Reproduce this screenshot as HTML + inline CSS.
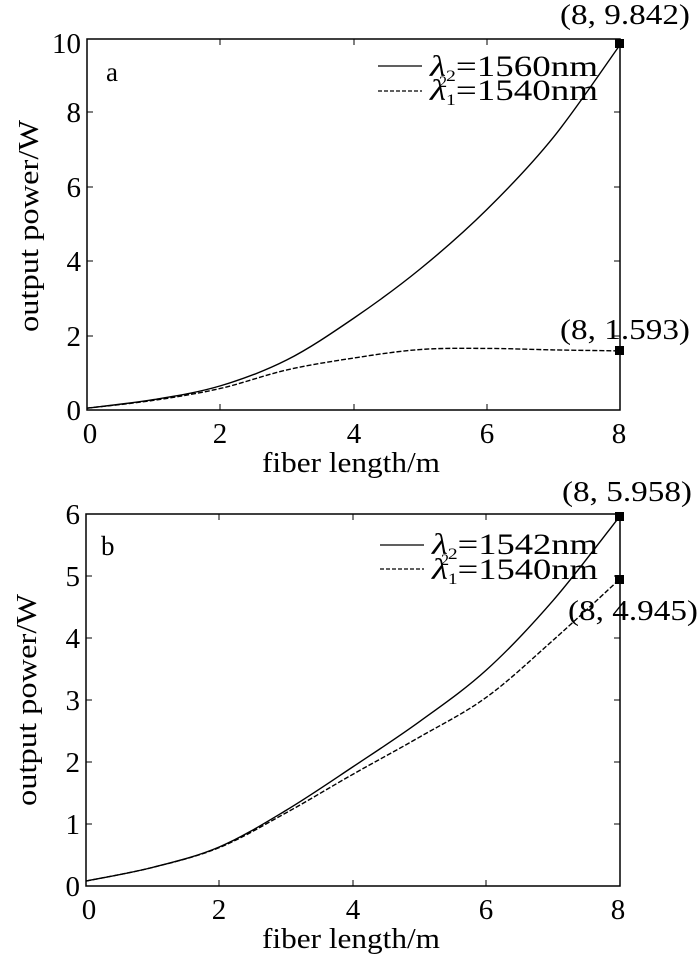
<!DOCTYPE html>
<html><head><style>body{margin:0;background:#fff}svg{display:block}text{font-family:"Liberation Serif",serif;fill:#000}</style></head>
<body>
<svg id="s" width="700" height="954" viewBox="0 0 700 954" xmlns="http://www.w3.org/2000/svg">
<g stroke="#000" fill="none" stroke-width="1.5">
<rect x="87" y="39" width="533" height="371"/>
<rect x="86" y="514" width="534" height="372"/>
</g>
<g stroke="#000" stroke-width="1">
<path d="M220,410v-6M354,410v-6M487,410v-6M220,39v6M354,39v6M487,39v6M87,336h6M87,261h6M87,187h6M87,112h6M620,336h-6M620,261h-6M620,187h-6M620,112h-6"/>
<path d="M219,886v-6M353,886v-6M486,886v-6M219,514v6M353,514v6M486,514v6M86,824h6M86,762h6M86,700h6M86,638h6M86,576h6M620,824h-6M620,762h-6M620,700h-6M620,638h-6M620,576h-6"/>
</g>
<g font-size="29" text-anchor="end">
<text x="81" y="420">0</text><text x="81" y="346">2</text><text x="81" y="271">4</text><text x="81" y="197">6</text><text x="81" y="122">8</text><text x="81" y="53">10</text>
<text x="80" y="896">0</text><text x="80" y="834">1</text><text x="80" y="772">2</text><text x="80" y="710">3</text><text x="80" y="648">4</text><text x="80" y="586">5</text><text x="80" y="524">6</text>
</g>
<g font-size="29" text-anchor="middle">
<text x="90" y="443">0</text><text x="220" y="443">2</text><text x="354" y="443">4</text><text x="487" y="443">6</text><text x="619" y="443">8</text>
<text x="89" y="919">0</text><text x="219" y="919">2</text><text x="353" y="919">4</text><text x="486" y="919">6</text><text x="618" y="919">8</text>
<text x="351" y="472" textLength="178" lengthAdjust="spacingAndGlyphs">fiber length/m</text>
<text x="351" y="948" textLength="178" lengthAdjust="spacingAndGlyphs">fiber length/m</text>
<text transform="translate(38,226) rotate(-90)" textLength="212" lengthAdjust="spacingAndGlyphs">output power/W</text>
<text transform="translate(36,700) rotate(-90)" textLength="212" lengthAdjust="spacingAndGlyphs">output power/W</text>
</g>
<text x="106" y="81" font-size="27">a</text>
<text x="101" y="555" font-size="27">b</text>
<g stroke="#000" stroke-width="1.3">
<path d="M378,66h44"/><path d="M378,91h44" stroke-dasharray="4,2"/>
<path d="M380,545h44"/><path d="M380,569h44" stroke-dasharray="4,2"/>
</g>
<g font-size="30">
<text x="430" y="76" textLength="168" lengthAdjust="spacingAndGlyphs"><tspan font-style="italic">λ</tspan><tspan font-size="16" dy="5">2</tspan><tspan dy="-5">=1560nm</tspan></text>
<text x="430" y="100" textLength="168" lengthAdjust="spacingAndGlyphs"><tspan font-style="italic">λ</tspan><tspan font-size="16" dy="5">1</tspan><tspan dy="-5">=1540nm</tspan></text>
<text x="439" y="87" font-size="16">2</text>
<text x="432" y="554" textLength="166" lengthAdjust="spacingAndGlyphs"><tspan font-style="italic">λ</tspan><tspan font-size="16" dy="5">2</tspan><tspan dy="-5">=1542nm</tspan></text>
<text x="432" y="579" textLength="166" lengthAdjust="spacingAndGlyphs"><tspan font-style="italic">λ</tspan><tspan font-size="16" dy="5">1</tspan><tspan dy="-5">=1540nm</tspan></text>
<text x="441" y="565" font-size="16">2</text>
</g>
<g font-size="29">
<text x="560" y="24" textLength="130" lengthAdjust="spacingAndGlyphs">(8, 9.842)</text>
<text x="560" y="339" textLength="130" lengthAdjust="spacingAndGlyphs">(8, 1.593)</text>
<text x="562" y="501" textLength="130" lengthAdjust="spacingAndGlyphs">(8, 5.958)</text>
<text x="568" y="620" textLength="130" lengthAdjust="spacingAndGlyphs">(8, 4.945)</text>
</g>
<g fill="none" stroke="#000" stroke-width="1.4">
<path id="a1"/><path id="a2" stroke-dasharray="5,2"/>
<path id="b1"/><path id="b2" stroke-dasharray="5,2"/>
</g>
<g fill="#000">
<rect x="615" y="39" width="9" height="9"/><rect x="615" y="346" width="9" height="9"/>
<rect x="615" y="512" width="9" height="9"/><rect x="615" y="575" width="9" height="9"/>
</g>
</svg>
<script>
function build(id,vals,x0,xs,y0,ys){
  var p=vals.map(function(v,i){return [x0+i*xs,y0-v*ys];});
  var d="M"+p[0][0]+","+p[0][1];
  for(var i=0;i<p.length-1;i++){
    var a=p[Math.max(i-1,0)],b=p[i],c=p[i+1],e=p[Math.min(i+2,p.length-1)];
    var c1=[b[0]+(c[0]-a[0])/6,b[1]+(c[1]-a[1])/6],c2=[c[0]-(e[0]-b[0])/6,c[1]-(e[1]-b[1])/6];
    d+="C"+c1.join(",")+" "+c2.join(",")+" "+c.join(",");
  }
  document.getElementById(id).setAttribute("d",d);
}
build("a1",[0.05,0.28,0.65,1.35,2.47,3.8,5.4,7.35,9.842],87,66.625,410,37.1);
build("a2",[0.05,0.26,0.58,1.08,1.4,1.63,1.66,1.62,1.593],87,66.625,410,37.1);
build("b1",[0.08,0.3,0.63,1.22,1.92,2.65,3.48,4.6,5.958],86,66.75,886,62.1);
build("b2",[0.08,0.3,0.62,1.18,1.8,2.4,3.04,3.96,4.945],86,66.75,886,62.1);
</script>
</body></html>
